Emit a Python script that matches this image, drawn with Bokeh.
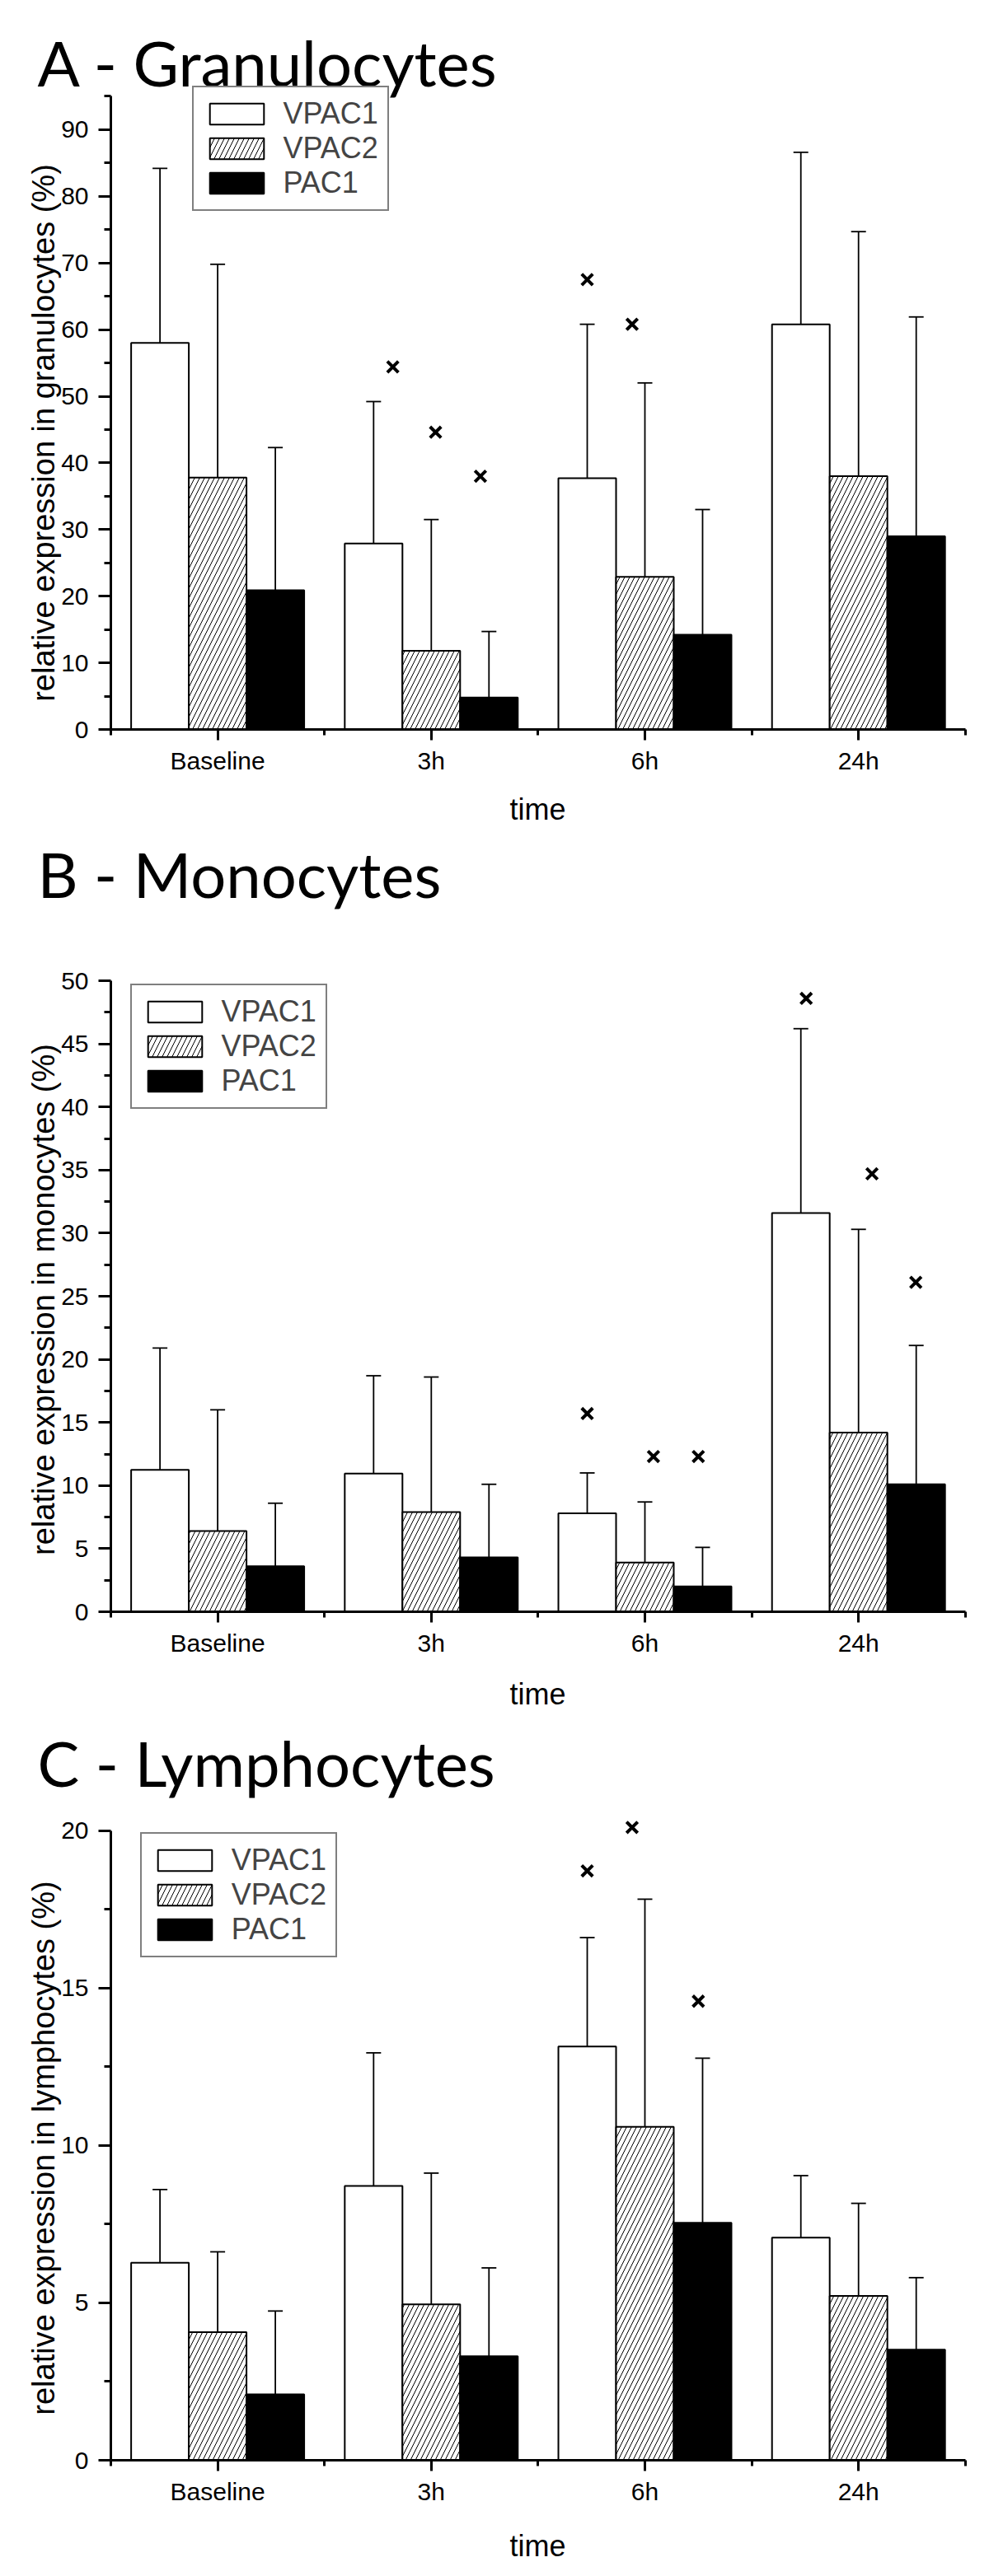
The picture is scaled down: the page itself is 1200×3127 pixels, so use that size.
import math
from bokeh.plotting import figure
from bokeh.layouts import column
from bokeh.models import (ColumnDataSource, Range1d, FixedTicker, Whisker, TeeHead,
                          Legend, LegendItem, Label)
from bokeh.embed import file_html
from bokeh.resources import INLINE

categories = ["Baseline", "3h", "6h", "24h"]
series_names = ["VPAC1", "VPAC2", "PAC1"]

# A - Granulocytes: mean (%) and SD (upper error bar)
gran_vpac1 = [58.0, 27.9, 37.7, 60.8]
gran_vpac1_sd = [26.2, 21.3, 23.1, 25.8]
gran_vpac2 = [37.8, 11.8, 22.9, 38.0]
gran_vpac2_sd = [32.0, 19.7, 29.1, 36.7]
gran_pac1 = [20.9, 4.8, 14.2, 29.0]
gran_pac1_sd = [21.4, 9.9, 18.8, 32.9]
gran_sig_cat = [1, 1, 1, 2, 2]
gran_sig_dx = [-0.18, 0.02, 0.23, -0.27, -0.06]
gran_sig_y = [54.4, 44.6, 38.0, 67.5, 60.8]

# B - Monocytes
mono_vpac1 = [11.25, 10.95, 7.8, 31.6]
mono_vpac1_sd = [9.65, 7.75, 3.2, 14.6]
mono_vpac2 = [6.4, 7.9, 3.9, 14.2]
mono_vpac2_sd = [9.6, 10.7, 4.8, 16.1]
mono_pac1 = [3.6, 4.3, 2.0, 10.1]
mono_pac1_sd = [5.0, 5.8, 3.1, 11.0]
mono_sig_cat = [2, 2, 2, 3, 3, 3]
mono_sig_dx = [-0.27, 0.04, 0.25, -0.245, 0.063, 0.268]
mono_sig_y = [15.7, 12.3, 12.3, 48.6, 34.7, 26.1]

# C - Lymphocytes
lymph_vpac1 = [6.27, 8.71, 13.14, 7.07]
lymph_vpac1_sd = [2.33, 4.23, 3.46, 1.97]
lymph_vpac2 = [4.07, 4.95, 10.59, 5.22]
lymph_vpac2_sd = [2.55, 4.17, 7.23, 2.94]
lymph_pac1 = [2.09, 3.30, 7.54, 3.51]
lymph_pac1_sd = [2.65, 2.81, 5.23, 2.29]
lymph_sig_cat = [2, 2, 2]
lymph_sig_dx = [-0.27, -0.06, 0.25]
lymph_sig_y = [18.72, 20.1, 14.58]

gran_ticks = [0, 10, 20, 30, 40, 50, 60, 70, 80, 90]
gran_minor = [5, 15, 25, 35, 45, 55, 65, 75, 85, 95]
mono_ticks = [0, 5, 10, 15, 20, 25, 30, 35, 40, 45, 50]
mono_minor = [2.5, 7.5, 12.5, 17.5, 22.5, 27.5, 32.5, 37.5, 42.5, 47.5]
lymph_ticks = [0, 5, 10, 15, 20]
lymph_minor = [2.5, 7.5, 12.5, 17.5]

FONT = "Liberation Sans"
TITLE_FONT = "Lato"
BAR_W = 0.27

# layout constants (page pixels)
PAGE_OFF = 8
FIG_W = 1184
AXIS_LEFT = 134          # figure px where the x axis starts (x = -0.5)
CAT_PX = 259.2           # pixels per category
TIME_X = 660
TITLE_X = 53
YLABEL_X = 60


def make_panel(title, ylabel, means, sds, sig_cat, sig_dx, sig_y, axis_top,
               y_major, y_minor, top_page, height, zero_page, ppu,
               legend_left, legend_bottom, title_base, ylabel_center, time_gap):
    zero_fig = zero_page - top_page

    def sx(page_x):
        return page_x - PAGE_OFF

    def sy(page_y):
        return height - (page_y - top_page)

    p = figure(width=FIG_W, height=height,
               x_range=Range1d(-0.5 - AXIS_LEFT / CAT_PX, -0.5 + (FIG_W - AXIS_LEFT) / CAT_PX),
               y_range=Range1d(-(height - zero_fig) / ppu, zero_fig / ppu),
               output_backend="svg", toolbar_location=None,
               min_border_left=0, min_border_right=0, min_border_top=0, min_border_bottom=0)
    p.outline_line_color = None
    p.grid.visible = False
    p.background_fill_color = "white"
    p.border_fill_color = "white"

    styles = [
        dict(fill_color="white"),
        dict(fill_color="white", hatch_pattern="right_diagonal_line", hatch_scale=12,
             hatch_weight=1, hatch_color="black"),
        dict(fill_color="black"),
    ]
    offsets = [-BAR_W, 0, BAR_W]
    renderers = []
    for k in range(3):
        xs = [i + offsets[k] for i in range(len(categories))]
        upper = [m + s for m, s in zip(means[k], sds[k])]
        src = ColumnDataSource(dict(x=xs, top=means[k], upper=upper))
        r = p.vbar(x="x", top="top", bottom=0, width=BAR_W, source=src, line_color="black",
                   line_width=2, **styles[k])
        renderers.append(r)
        p.add_layout(Whisker(source=src, base="x", lower="top", upper="upper",
                             dimension="height", line_width=1.8, line_color="black",
                             upper_head=TeeHead(size=18, line_width=1.8, line_color="black"),
                             lower_head=None))

    p.scatter(x=[c + d for c, d in zip(sig_cat, sig_dx)], y=sig_y, marker="x",
              size=19, line_width=4, line_color="black")

    xa = p.xaxis[0]
    xa.fixed_location = 0
    xa.bounds = (-0.5, len(categories) - 0.5)
    xa.ticker = FixedTicker(ticks=list(range(len(categories))),
                            minor_ticks=[i - 0.5 for i in range(len(categories) + 1)])
    xa.major_label_overrides = {i: c for i, c in enumerate(categories)}
    xa.major_tick_out = 13
    xa.major_tick_in = 0
    xa.minor_tick_out = 7
    xa.minor_tick_in = 0
    xa.major_label_standoff = 8

    ya = p.yaxis[0]
    ya.fixed_location = -0.5
    ya.ticker = FixedTicker(ticks=y_major, minor_ticks=y_minor)
    ya.bounds = (0, axis_top)
    ya.major_tick_out = 15
    ya.major_tick_in = 0
    ya.minor_tick_out = 8
    ya.minor_tick_in = 0
    ya.major_label_standoff = 12

    for ax in (xa, ya):
        ax.axis_line_width = 3
        ax.axis_line_color = "black"
        ax.major_tick_line_width = 3
        ax.minor_tick_line_width = 3
        ax.major_tick_line_color = "black"
        ax.minor_tick_line_color = "black"
        ax.major_label_text_font = FONT
        ax.major_label_text_font_size = "30px"
        ax.major_label_text_color = "black"

    legend = Legend(items=[LegendItem(label=n, renderers=[r])
                           for n, r in zip(series_names, renderers)],
                    location=(sx(legend_left), sy(legend_bottom)))
    legend.label_text_font = FONT
    legend.label_text_font_size = "36px"
    legend.glyph_width = 82
    legend.glyph_height = 32
    legend.padding = 11
    legend.spacing = 0
    legend.margin = 0
    legend.label_standoff = 16
    legend.border_line_color = "black"
    legend.border_line_width = 2
    legend.background_fill_color = "white"
    legend.background_fill_alpha = 1
    p.add_layout(legend)

    # panel title
    p.add_layout(Label(x=sx(TITLE_X), y=sy(title_base), x_units="screen", y_units="screen",
                       text=title, text_font=TITLE_FONT, text_font_size="76px",
                       text_baseline="alphabetic", text_align="left", text_color="black"))
    # x axis title
    p.add_layout(Label(x=sx(TIME_X), y=sy(zero_page + time_gap), x_units="screen",
                       y_units="screen", text="time", text_font=FONT, text_font_size="36px",
                       text_align="center", text_baseline="alphabetic", text_color="black"))
    # y axis title
    p.add_layout(Label(x=sx(YLABEL_X), y=sy(ylabel_center), x_units="screen", y_units="screen",
                       text=ylabel, angle=90, angle_units="deg", text_font=FONT,
                       text_font_size="38px", text_align="center",
                       text_baseline="alphabetic", text_color="black"))
    return p


pA = make_panel("A - Granulocytes", "relative expression in granulocytes (%)",
                [gran_vpac1, gran_vpac2, gran_pac1],
                [gran_vpac1_sd, gran_vpac2_sd, gran_pac1_sd],
                gran_sig_cat, gran_sig_dx, gran_sig_y, 95, gran_ticks, gran_minor,
                top_page=8, height=1004, zero_page=893, ppu=8.09,
                legend_left=240.5, legend_bottom=264, title_base=83, ylabel_center=533,
                time_gap=97)

pB = make_panel("B - Monocytes", "relative expression in monocytes (%)",
                [mono_vpac1, mono_vpac2, mono_pac1],
                [mono_vpac1_sd, mono_vpac2_sd, mono_pac1_sd],
                mono_sig_cat, mono_sig_dx, mono_sig_y, 50, mono_ticks, mono_minor,
                top_page=1012, height=1074, zero_page=1964, ppu=15.32,
                legend_left=165.5, legend_bottom=1354, title_base=1068, ylabel_center=1585,
                time_gap=100)

pC = make_panel("C - Lymphocytes", "relative expression in lymphocytes (%)",
                [lymph_vpac1, lymph_vpac2, lymph_pac1],
                [lymph_vpac1_sd, lymph_vpac2_sd, lymph_pac1_sd],
                lymph_sig_cat, lymph_sig_dx, lymph_sig_y, 20, lymph_ticks, lymph_minor,
                top_page=2086, height=1033, zero_page=2994, ppu=38.22,
                legend_left=177.7, legend_bottom=2383.6, title_base=2147, ylabel_center=2615,
                time_gap=104)

layout = column(pA, pB, pC)
open("out.html", "w").write(file_html(layout, INLINE))
